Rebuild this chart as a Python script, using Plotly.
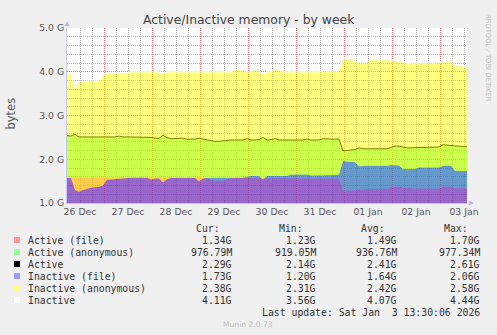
import pandas as pd
import plotly.graph_objects as go

# ---- data (GiB), 2-hour samples from 26 Dec 05:30 to 03 Jan 13:30 ----
times = pd.date_range("2025-12-26 05:30", "2026-01-03 13:30", freq="2h")

active_file = [
    1.59, 1.59, 1.59, 1.59, 1.59, 1.59, 1.59, 1.59, 1.59, 1.60,
    1.60, 1.60, 1.60, 1.60, 1.60, 1.60, 1.60, 1.60, 1.60, 1.60,
    1.60, 1.60, 1.60, 1.60, 1.60, 1.60, 1.60, 1.60, 1.60, 1.60,
    1.60, 1.60, 1.60, 1.60, 1.59, 1.57, 1.52, 1.51, 1.51, 1.51,
    1.55, 1.57, 1.57, 1.57, 1.57, 1.57, 1.56, 1.56, 1.56, 1.56,
    1.56, 1.57, 1.57, 1.57, 1.57, 1.57, 1.57, 1.57, 1.57, 1.57,
    1.57, 1.57, 1.57, 1.57, 1.57, 1.57, 1.56, 1.56, 1.56, 1.28,
    1.28, 1.28, 1.29, 1.31, 1.32, 1.32, 1.32, 1.32, 1.32, 1.32,
    1.32, 1.37, 1.38, 1.38, 1.35, 1.34, 1.34, 1.33, 1.33, 1.33,
    1.33, 1.33, 1.33, 1.33, 1.38, 1.38, 1.37, 1.34, 1.34, 1.34,
    1.34]

active = [
    2.54, 2.53, 2.57, 2.51, 2.51, 2.51, 2.51, 2.51, 2.51, 2.51,
    2.51, 2.51, 2.51, 2.53, 2.51, 2.51, 2.51, 2.51, 2.51, 2.51,
    2.51, 2.50, 2.48, 2.48, 2.55, 2.49, 2.47, 2.47, 2.47, 2.48,
    2.46, 2.46, 2.46, 2.48, 2.46, 2.45, 2.42, 2.41, 2.41, 2.42,
    2.44, 2.44, 2.44, 2.44, 2.44, 2.47, 2.44, 2.44, 2.45, 2.50,
    2.44, 2.45, 2.47, 2.44, 2.44, 2.44, 2.44, 2.44, 2.44, 2.44,
    2.46, 2.44, 2.44, 2.44, 2.47, 2.46, 2.46, 2.46, 2.46, 2.19,
    2.20, 2.21, 2.22, 2.26, 2.24, 2.24, 2.24, 2.24, 2.24, 2.24,
    2.24, 2.27, 2.30, 2.30, 2.28, 2.26, 2.26, 2.27, 2.27, 2.27,
    2.27, 2.27, 2.27, 2.28, 2.33, 2.32, 2.31, 2.30, 2.30, 2.29,
    2.29]

inactive_file = [
    1.57, 1.57, 1.30, 1.26, 1.30, 1.33, 1.35, 1.36, 1.37, 1.40,
    1.53, 1.54, 1.55, 1.56, 1.56, 1.57, 1.58, 1.58, 1.58, 1.58,
    1.58, 1.54, 1.56, 1.56, 1.47, 1.55, 1.57, 1.57, 1.57, 1.57,
    1.57, 1.57, 1.57, 1.50, 1.56, 1.57, 1.57, 1.57, 1.57, 1.57,
    1.58, 1.58, 1.58, 1.58, 1.58, 1.60, 1.62, 1.62, 1.62, 1.54,
    1.62, 1.62, 1.62, 1.62, 1.62, 1.62, 1.65, 1.65, 1.65, 1.65,
    1.65, 1.63, 1.63, 1.63, 1.63, 1.63, 1.63, 1.64, 1.65, 1.96,
    1.95, 1.94, 1.93, 1.84, 1.85, 1.85, 1.85, 1.85, 1.85, 1.85,
    1.85, 1.87, 1.87, 1.86, 1.78, 1.78, 1.78, 1.78, 1.81, 1.81,
    1.81, 1.81, 1.81, 1.81, 1.85, 1.85, 1.85, 1.74, 1.74, 1.74,
    1.73]

inactive = [
    3.97, 3.97, 3.62, 3.78, 3.78, 3.78, 3.79, 3.79, 3.80, 3.92,
    3.97, 3.97, 3.97, 3.98, 3.98, 3.98, 4.00, 4.00, 4.00, 4.00,
    4.00, 4.00, 4.00, 4.00, 3.96, 4.00, 4.00, 4.00, 4.00, 4.00,
    4.00, 4.00, 4.00, 4.00, 4.00, 4.00, 4.00, 4.00, 4.00, 4.00,
    4.00, 4.00, 4.05, 4.05, 4.04, 4.00, 4.00, 4.05, 4.01, 3.95,
    4.00, 4.00, 4.05, 4.05, 4.00, 4.00, 4.00, 4.00, 4.00, 4.00,
    4.00, 4.00, 4.00, 4.00, 4.02, 4.02, 4.02, 4.02, 4.02, 4.30,
    4.31, 4.30, 4.24, 4.21, 4.22, 4.22, 4.28, 4.28, 4.28, 4.28,
    4.28, 4.27, 4.25, 4.25, 4.22, 4.20, 4.20, 4.20, 4.21, 4.21,
    4.21, 4.21, 4.21, 4.21, 4.23, 4.23, 4.23, 4.14, 4.14, 4.13,
    4.11]

legend_names = ["Active (file)", "Active (anonymous)", "Active",
                "Inactive (file)", "Inactive (anonymous)", "Inactive"]
legend_swatch = ["#ff9999", "#99ff99", "#000000", "#9999ff", "#ffff80", "#ffffff"]
stat_cur = ["1.34G", "976.79M", "2.29G", "1.73G", "2.38G", "4.11G"]
stat_min = ["1.23G", "919.05M", "2.14G", "1.20G", "2.31G", "3.56G"]
stat_avg = ["1.49G", "936.76M", "2.41G", "1.64G", "2.42G", "4.07G"]
stat_max = ["1.70G", "977.34M", "2.61G", "2.06G", "2.58G", "4.44G"]

# ---- figure ----
L, R, T, B = 67, 467, 28, 203
W, H = 497, 335

def px(x):
    return (x - L) / (R - L)

def py(y):
    return (B - y) / (B - T)

fig = go.Figure()
fig.add_trace(go.Scatter(x=times, y=active_file, mode="lines", line=dict(width=0),
                         fill="tozeroy", fillcolor="rgba(255,51,51,0.5)", hoverinfo="skip"))
fig.add_trace(go.Scatter(x=times, y=active, mode="lines", line=dict(width=0),
                         fill="tonexty", fillcolor="rgba(51,255,51,0.5)", hoverinfo="skip"))
fig.add_trace(go.Scatter(x=times, y=active, mode="lines", line=dict(width=1, color="#000000"),
                         hoverinfo="skip"))
fig.add_trace(go.Scatter(x=times, y=inactive_file, mode="lines", line=dict(width=0),
                         fill="tozeroy", fillcolor="rgba(51,51,255,0.5)", hoverinfo="skip"))
fig.add_trace(go.Scatter(x=times, y=inactive, mode="lines", line=dict(width=0),
                         fill="tonexty", fillcolor="rgba(255,255,0,0.5)", hoverinfo="skip"))
fig.add_trace(go.Scatter(x=times, y=inactive, mode="lines", line=dict(width=1, color="#ffffff"),
                         hoverinfo="skip"))

major = "rgba(240,0,0,0.55)"
minor = "rgba(110,110,110,0.55)"
fig.update_xaxes(type="date", range=[times[0], times[-1]],
                 dtick=86400000, tick0="2025-12-26", tickformat="%d %b",
                 ticklabelmode="period", showgrid=True, gridcolor=major,
                 griddash="1px,1px", gridwidth=1,
                 minor=dict(dtick=21600000, showgrid=True, gridcolor=minor,
                            griddash="1px,1px", gridwidth=1),
                 showline=True, linecolor="#c4c8f0", linewidth=1, ticks="",
                 tickfont=dict(family="DejaVu Sans", size=9.3, color="#555555"),
                 fixedrange=True)
fig.update_yaxes(range=[1, 5], tick0=0, dtick=1, tickformat=".1f", ticksuffix=" G",
                 showgrid=True, gridcolor=major, griddash="1px,1px", gridwidth=1,
                 minor=dict(dtick=0.2, showgrid=True, gridcolor=minor,
                            griddash="1px,1px", gridwidth=1),
                 showline=True, linecolor="#c4c8f0", linewidth=1, ticks="",
                 zeroline=False,
                 tickfont=dict(family="DejaVu Sans", size=9.3, color="#555555"),
                 fixedrange=True)

ann = []
ann.append(dict(text="Active/Inactive memory - by week", x=px(249), y=py(20),
                font=dict(family="DejaVu Sans", size=12.4, color="#444444")))
ann.append(dict(text="bytes", x=px(10.5), y=py(114), textangle=-90,
                font=dict(family="DejaVu Sans", size=11.5, color="#555555")))
ann.append(dict(text="RRDTOOL / TOBI OETIKER", x=px(488), y=py(58), textangle=90,
                font=dict(family="DejaVu Sans", size=6.8, color="#c0c0c0")))
mono = dict(family="DejaVu Sans Mono", size=9.8, color="#333333")
for hx, htxt in zip([222, 305, 387, 470], ["Cur:", "Min:", "Avg:", "Max:"]):
    ann.append(dict(text=htxt, x=px(hx), y=py(228), xanchor="right", font=mono))
row_y = [240, 252, 264, 276, 288, 300]
shapes = []
for i, name in enumerate(legend_names):
    yy = row_y[i]
    ann.append(dict(text=name, x=px(26.3), y=py(yy), xanchor="left", font=mono))
    for cx, vals in zip([234, 318, 399, 482], [stat_cur, stat_min, stat_avg, stat_max]):
        ann.append(dict(text=vals[i], x=px(cx), y=py(yy), xanchor="right", font=mono))
    shapes.append(dict(type="rect", xref="paper", yref="paper",
                       x0=px(14), x1=px(20), y0=py(yy + 3), y1=py(yy - 3),
                       fillcolor=legend_swatch[i], line=dict(width=0)))
ann.append(dict(text="Last update: Sat Jan  3 13:30:06 2026", x=px(482), y=py(312),
                xanchor="right", font=mono))
ann.append(dict(text="Munin 2.0.73", x=px(248), y=py(324),
                font=dict(family="DejaVu Sans", size=7.6, color="#c0c0c0")))
for a in ann:
    a.setdefault("xanchor", "center")
    a.update(xref="paper", yref="paper", yanchor="middle", showarrow=False)

# axis arrows
ann.append(dict(text="", xref="paper", yref="paper", x=px(67), y=py(21), ax=0, ay=7,
                showarrow=True, arrowhead=2, arrowsize=1, arrowwidth=1, arrowcolor="#b4bcf4"))
ann.append(dict(text="", xref="paper", yref="paper", x=px(474), y=py(203), ax=-7, ay=0,
                showarrow=True, arrowhead=2, arrowsize=1, arrowwidth=1, arrowcolor="#b4bcf4"))

fig.update_layout(width=W, height=H, margin=dict(l=L, r=W - R, t=T, b=H - B, pad=0),
                  paper_bgcolor="#f0f0f0", plot_bgcolor="#ffffff", showlegend=False,
                  annotations=ann, shapes=shapes,
                  font=dict(family="DejaVu Sans"))
fig.write_html("out.html")
